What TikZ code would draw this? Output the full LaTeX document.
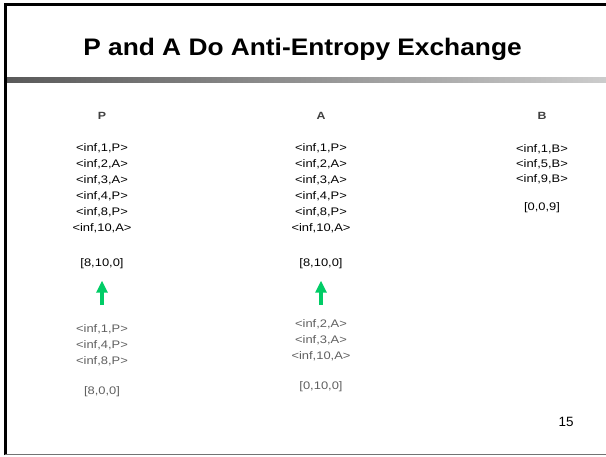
\documentclass[tikz,border=0pt]{standalone}
\usepackage{fontspec}
\setmainfont{Liberation Sans}
\newfontfamily\listfont[FakeStretch=1.18]{Liberation Sans}
\newfontfamily\titlefont[FakeStretch=1.1]{Liberation Sans}
\usetikzlibrary{arrows.meta}
\definecolor{arrowgreen}{RGB}{0,204,102}
\definecolor{hdrgray}{RGB}{64,64,64}
\definecolor{lowgray}{RGB}{95,95,95}
\begin{document}
\begin{tikzpicture}[x=1bp,y=-1bp,
  titletext/.style={anchor=base,inner sep=0pt,font=\titlefont\fontsize{24}{28}\selectfont\bfseries},
  hdr/.style={anchor=base,inner sep=0pt,text=hdrgray,font=\listfont\fontsize{10.5}{12}\selectfont\bfseries},
  item/.style={anchor=base,inner sep=0pt,font=\listfont\fontsize{11}{13}\selectfont},
  lowitem/.style={item,text=lowgray},
  uparrow/.style={draw=arrowgreen,line width=4bp,-{Triangle[width=11bp,length=12bp]}},
  pagenum/.style={anchor=base,inner sep=0pt,font=\fontsize{13.5}{15}\selectfont}]
\useasboundingbox (0,0) rectangle (606,457);
% frame
\shade[left color=black!65,right color=black!20] (6,78) rectangle (606,83);
\draw[line width=2.6bp,miter limit=10] (5.3,455) -- (5.3,4.6) -- (606,4.6);
\draw[black!55,line width=1bp] (5.3,454.5) -- (606,454.5);
% title
\node[titletext] (title) at (302.5,56) {P and A Do Anti-Entropy Exchange};
% headers
\node[hdr] (hP) at (102,120) {P};
\node[hdr] (hA) at (321,120) {A};
\node[hdr] (hB) at (542,120) {B};
% P column
\node[item] (p1) at (102,152) {<inf,1,P>};
\node[item] (p2) at (102,168) {<inf,2,A>};
\node[item] (p3) at (102,184) {<inf,3,A>};
\node[item] (p4) at (102,200) {<inf,4,P>};
\node[item] (p5) at (102,216) {<inf,8,P>};
\node[item] (p6) at (102,232) {<inf,10,A>};
\node[item] (pv) at (102,266.5) {[8,10,0]};
% A column
\node[item] (a1) at (321,152) {<inf,1,P>};
\node[item] (a2) at (321,168) {<inf,2,A>};
\node[item] (a3) at (321,184) {<inf,3,A>};
\node[item] (a4) at (321,200) {<inf,4,P>};
\node[item] (a5) at (321,216) {<inf,8,P>};
\node[item] (a6) at (321,232) {<inf,10,A>};
\node[item] (av) at (321,266.5) {[8,10,0]};
% B column
\node[item] (b1) at (542,153) {<inf,1,B>};
\node[item] (b2) at (542,168) {<inf,5,B>};
\node[item] (b3) at (542,183) {<inf,9,B>};
\node[item] (bv) at (542,211) {[0,0,9]};
% arrows
\coordinate (pArrS) at (102,305);
\coordinate (pArrE) at (102,280.7);
\coordinate (aArrS) at (321,305);
\coordinate (aArrE) at (321,280.7);
\draw[uparrow] (pArrS) -- (pArrE);
\draw[uparrow] (aArrS) -- (aArrE);
% lower P
\node[lowitem] (lp1) at (102,332) {<inf,1,P>};
\node[lowitem] (lp2) at (102,348) {<inf,4,P>};
\node[lowitem] (lp3) at (102,364) {<inf,8,P>};
\node[lowitem] (lpv) at (102,394) {[8,0,0]};
% lower A
\node[lowitem] (la1) at (321,327) {<inf,2,A>};
\node[lowitem] (la2) at (321,343) {<inf,3,A>};
\node[lowitem] (la3) at (321,359) {<inf,10,A>};
\node[lowitem] (lav) at (321,389) {[0,10,0]};
% page number
\node[pagenum] (num) at (566,426) {15};
\end{tikzpicture}
\end{document}
